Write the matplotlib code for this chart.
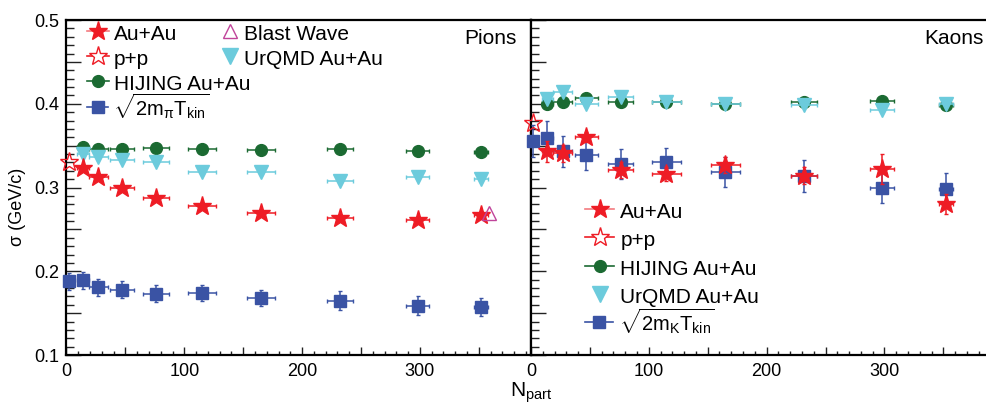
import matplotlib
matplotlib.use('Agg')
import matplotlib.pyplot as plt
from matplotlib.lines import Line2D
from matplotlib.ticker import MultipleLocator, FuncFormatter

plt.rcParams['font.family'] = ['Liberation Sans', 'DejaVu Sans']
plt.rcParams['mathtext.fontset'] = 'custom'
plt.rcParams['mathtext.rm'] = 'Liberation Sans'
plt.rcParams['mathtext.it'] = 'Liberation Sans:italic'

# centrality bins (N_part) and their errors
npart = [14, 27, 47, 76, 115, 165, 232, 298, 352]
npart_err = [5, 8, 10, 11, 12, 12, 11, 10, 6]
npart_pp = 2
npart_bw = 359

# pions
pi_auau = [0.323, 0.312, 0.300, 0.287, 0.278, 0.269, 0.264, 0.261, 0.267]
pi_auau_err = [0.003, 0.003, 0.003, 0.003, 0.003, 0.003, 0.003, 0.003, 0.003]
pi_hijing = [0.348, 0.346, 0.346, 0.347, 0.346, 0.345, 0.346, 0.344, 0.342]
pi_urqmd = [0.340, 0.336, 0.333, 0.330, 0.319, 0.318, 0.308, 0.312, 0.310]
pi_sqrt = [0.188, 0.189, 0.181, 0.178, 0.173, 0.174, 0.168, 0.165, 0.159, 0.157]
pi_sqrt_err = [0.010, 0.010, 0.010, 0.010, 0.010, 0.010, 0.010, 0.011, 0.011, 0.011]
pi_pp = 0.331
pi_bw = 0.269

# kaons
k_auau = [0.343, 0.341, 0.360, 0.321, 0.316, 0.327, 0.314, 0.322, 0.280]
k_auau_err = [0.013, 0.010, 0.006, 0.010, 0.008, 0.010, 0.010, 0.018, 0.012]
k_hijing = [0.400, 0.402, 0.407, 0.402, 0.402, 0.400, 0.402, 0.403, 0.398]
k_urqmd = [0.406, 0.414, 0.400, 0.408, 0.402, 0.400, 0.399, 0.393, 0.400]
k_sqrt = [0.356, 0.359, 0.343, 0.339, 0.328, 0.330, 0.319, 0.314, 0.300, 0.298]
k_sqrt_err = [0.019, 0.020, 0.019, 0.018, 0.018, 0.017, 0.018, 0.019, 0.019, 0.019]
k_pp = 0.377

RED = '#ee1c25'
GREEN = '#1b6a32'
CYAN = '#6ccbdc'
BLUE = '#3a53a4'
MAG = '#c0449a'

W, H = 987, 407
fig = plt.figure(figsize=(W / 100, H / 100), dpi=100)
y0 = 1 - 355 / H
hh = (355 - 20) / H
aw = (531 - 66.5) / W
ax1 = fig.add_axes([66.5 / W, y0, aw, hh])
ax2 = fig.add_axes([531 / W, y0, aw, hh])

eb = dict(ls='none', capsize=1.2, elinewidth=1.1, clip_on=False)
STAR = 14


def panel(ax, auau, auau_err, hij, urq, sq, sq_err, pp):
    xs = [npart_pp] + npart
    sq_xerr = [0] + npart_err
    ax.errorbar(xs, sq, xerr=sq_xerr, yerr=sq_err, marker='s', ms=8.5,
                color=BLUE, mec=BLUE, ecolor=BLUE, zorder=3, **eb)
    ax.errorbar(npart, hij, xerr=npart_err, marker='o', ms=8.5,
                color=GREEN, ecolor=GREEN, zorder=4, **eb)
    ax.errorbar(npart, urq, xerr=npart_err, marker='v', ms=9.5,
                color=CYAN, ecolor=CYAN, zorder=5, **eb)
    ax.errorbar(npart, auau, xerr=npart_err, yerr=auau_err, marker='*', ms=STAR,
                color=RED, ecolor=RED, zorder=6, **eb)
    ax.plot([npart_pp], [pp], ls='none', marker='*', ms=STAR, mfc='none',
            mec=RED, mew=1.0, zorder=7, clip_on=False)


panel(ax1, pi_auau, pi_auau_err, pi_hijing, pi_urqmd, pi_sqrt, pi_sqrt_err, pi_pp)
ax1.plot([npart_bw], [pi_bw], ls='none', marker='^', ms=10, mfc='none',
         mec=MAG, mew=1.0, zorder=7)
panel(ax2, k_auau, k_auau_err, k_hijing, k_urqmd, k_sqrt, k_sqrt_err, k_pp)

for ax in (ax1, ax2):
    ax.set_xlim(0, 394.3)
    ax.set_ylim(0.1, 0.5)
    ax.xaxis.set_major_locator(MultipleLocator(50))
    ax.xaxis.set_minor_locator(MultipleLocator(10))
    ax.yaxis.set_major_locator(MultipleLocator(0.05))
    ax.yaxis.set_minor_locator(MultipleLocator(0.01))
    ax.xaxis.set_major_formatter(FuncFormatter(
        lambda v, p: '%d' % v if abs(v % 100) < 1e-6 else ''))
    ax.tick_params(which='both', direction='in', top=False, right=False,
                   labelsize=13, color='#222222')
    ax.tick_params(axis='x', which='major', length=6, width=1, pad=6)
    ax.tick_params(axis='x', which='minor', length=3, width=1)
    ax.tick_params(axis='y', which='major', length=11, width=1, pad=5)
    ax.tick_params(axis='y', which='minor', length=5.5, width=1)
    for s in ax.spines.values():
        s.set_linewidth(1.6)

ax1.yaxis.set_major_formatter(FuncFormatter(
    lambda v, p: ('%.1f' % v) if abs(round(v * 10) - v * 10) < 1e-6 else ''))
ax2.tick_params(axis='y', labelleft=False)

ax1.text(0.97, 0.945, 'Pions', transform=ax1.transAxes, ha='right', va='center', fontsize=15)
ax2.text(0.975, 0.945, 'Kaons', transform=ax2.transAxes, ha='right', va='center', fontsize=15)

fig.text(531 / W, 1 - 393 / H, r'N$_{\rm part}$', ha='center', va='center', fontsize=15)
fig.text(18 / W, 1 - 207 / H, 'σ (GeV/c)', rotation=90, ha='center', va='center', fontsize=13)

# legends
h_auau = Line2D([], [], color='#f47a7f', lw=1.2, marker='*', ms=STAR, mfc=RED, mec=RED)
h_pp = Line2D([], [], color=RED, lw=1.2, marker='*', ms=STAR, mfc='white', mec=RED, mew=1.0)
h_hij = Line2D([], [], color=GREEN, lw=1.2, marker='o', ms=8.5)
h_bw = Line2D([], [], ls='none', marker='^', ms=10, mfc='none', mec=MAG, mew=1.0)
h_urq_l = Line2D([], [], ls='none', marker='v', ms=11, color=CYAN)
h_sq = Line2D([], [], color=BLUE, lw=1.2, marker='s', ms=8.5)

FS = 15
leg_kw = dict(frameon=False, fontsize=FS, borderpad=0, borderaxespad=0,
              handletextpad=0.25, handlelength=1.05, handleheight=1.2,
              labelspacing=0.15, loc='upper left')

# pions: left column of entries, second column, and the sqrt entry
ax1.add_artist(ax1.legend([h_auau, h_pp, h_hij], ['Au+Au', 'p+p', 'HIJING Au+Au'],
                          bbox_to_anchor=(0.0441, 0.993), **leg_kw))
ax1.add_artist(ax1.legend([h_sq], [r'$\sqrt{\mathrm{2m_{\pi}T_{kin}}}$'],
                          bbox_to_anchor=(0.0441, 0.787),
                          **dict(leg_kw, fontsize=14.5)))
ax1.legend([h_bw, h_urq_l], ['Blast Wave', 'UrQMD Au+Au'],
           bbox_to_anchor=(0.335, 0.993), **dict(leg_kw, handlelength=0.8))

# kaons
kw2 = dict(leg_kw, handlelength=1.4, handletextpad=0.3, labelspacing=0.33)
ax2.add_artist(ax2.legend([h_auau, h_pp, h_hij, h_urq_l],
                          ['Au+Au', 'p+p', 'HIJING Au+Au', 'UrQMD Au+Au'],
                          bbox_to_anchor=(0.1163, 0.463), **kw2))
ax2.legend([h_sq], [r'$\sqrt{\mathrm{2m_{K}T_{kin}}}$'],
           bbox_to_anchor=(0.1163, 0.145), **dict(kw2, fontsize=14.5))

fig.savefig('out.png', dpi=100)
